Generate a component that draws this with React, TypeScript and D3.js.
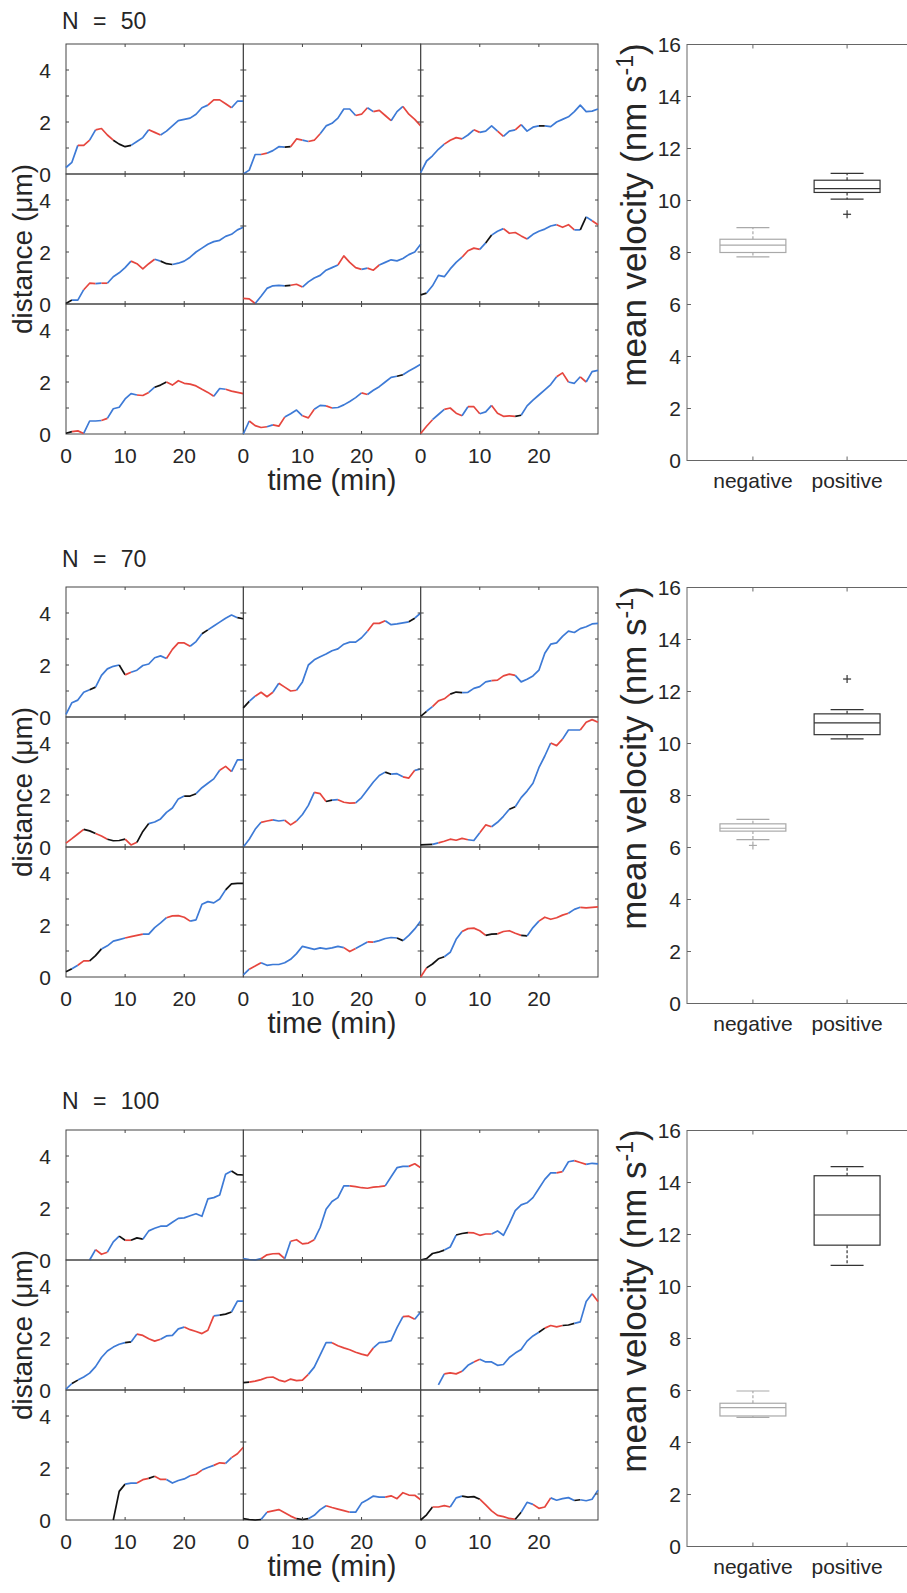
import React from "react";
import * as d3 from "d3";

// sampled trajectories, one value per minute
const TIME_MIN = [0, 1, 2, 3, 4, 5, 6, 7, 8, 9, 10, 11, 12, 13, 14, 15, 16, 17, 18, 19, 20, 21, 22, 23, 24, 25, 26, 27, 28, 29, 30];
const SECTIONS = ["N = 50", "N = 70", "N = 100"];
const GROUPS = ["negative", "positive"];

const DIST_N50 = [
  [0.25, 0.45, 1.1, 1.1, 1.3, 1.7, 1.75, 1.5, 1.3, 1.15, 1.05, 1.1, 1.25, 1.4, 1.7, 1.6, 1.5, 1.65, 1.85, 2.05, 2.1, 2.15, 2.3, 2.55, 2.65, 2.85, 2.85, 2.7, 2.55, 2.8, 2.8],
  [0, 0.15, 0.75, 0.75, 0.8, 0.9, 1.05, 1.03, 1.05, 1.35, 1.3, 1.25, 1.3, 1.55, 1.85, 1.95, 2.15, 2.5, 2.5, 2.25, 2.3, 2.55, 2.4, 2.45, 2.25, 2.05, 2.4, 2.6, 2.3, 2.1, 1.85],
  [0.05, 0.5, 0.7, 0.95, 1.15, 1.3, 1.4, 1.35, 1.5, 1.7, 1.6, 1.65, 1.85, 1.65, 1.45, 1.65, 1.7, 1.9, 1.65, 1.8, 1.85, 1.85, 1.82, 2.0, 2.1, 2.2, 2.4, 2.65, 2.4, 2.42, 2.5],
  [0.02, 0.15, 0.15, 0.55, 0.8, 0.78, 0.8, 0.8, 1.05, 1.2, 1.4, 1.65, 1.55, 1.35, 1.55, 1.72, 1.65, 1.55, 1.52, 1.57, 1.65, 1.8, 2.0, 2.15, 2.3, 2.4, 2.45, 2.6, 2.68, 2.85, 2.95],
  [0.22, 0.2, 0.02, 0.3, 0.6, 0.7, 0.72, 0.7, 0.72, 0.76, 0.65, 0.85, 1.0, 1.1, 1.3, 1.4, 1.5, 1.85, 1.6, 1.4, 1.33, 1.38, 1.3, 1.5, 1.6, 1.7, 1.66, 1.75, 1.9, 2.0, 2.3],
  [0.35, 0.42, 0.7, 1.1, 1.05, 1.35, 1.6, 1.8, 2.05, 2.15, 2.1, 2.35, 2.65, 2.8, 2.9, 2.72, 2.75, 2.62, 2.5, 2.68, 2.8, 2.88, 3.0, 3.05, 2.95, 3.05, 2.85, 2.85, 3.35, 3.2, 3.05],
  [0.03, 0.09, 0.12, 0.02, 0.5, 0.5, 0.52, 0.6, 0.97, 1.03, 1.35, 1.55, 1.5, 1.48, 1.6, 1.8, 1.88, 2.0, 1.88, 2.05, 1.95, 1.92, 1.85, 1.72, 1.6, 1.45, 1.75, 1.72, 1.65, 1.6, 1.55],
  [0, 0.5, 0.32, 0.25, 0.28, 0.35, 0.3, 0.65, 0.78, 0.92, 0.7, 0.62, 0.95, 1.1, 1.08, 1.0, 1.02, 1.12, 1.25, 1.4, 1.58, 1.52, 1.68, 1.82, 2.0, 2.18, 2.22, 2.28, 2.42, 2.55, 2.68],
  [0.02, 0.3, 0.55, 0.75, 0.95, 1.0, 0.8, 0.7, 1.05, 1.05, 0.78, 0.85, 1.1, 0.8, 0.68, 0.7, 0.68, 0.72, 1.08, 1.3, 1.5, 1.7, 1.9, 2.2, 2.35, 2.0, 1.95, 2.2, 2.0, 2.4, 2.45],
];
// b = blue, r = red, k = black, one letter per minute interval
const SEG_N50 = [
  "bbrrbrrrkkkbbbrrbbbbbbbbrrrrbb",
  "bbbrbbbkrrbrrbbbbbbrrbrrrbbrrr",
  "bbbbrrrbbrbbbrbbrbbbkbbbbbbbbb",
  "kbbrrbrbbbbrrrrbkkbbbbbbbbbbbb",
  "rrbbbbbkrrbbbbbbrrrrbrrbbbbbbb",
  "kbbbbbbrrrbkbbrrrrbbbbbrrrbkbr",
  "krrbbbrbbbbbrrbkkrrrrrrrrbbrrr",
  "brrrbrrbbbrrbbrbbbbbrbbbbbkbbb",
  "rrbbrrrbrrbbrrrrkbbbbbbrrbbrbb",
];

const DIST_N70 = [
  [0.1, 0.55, 0.65, 0.95, 1.05, 1.15, 1.6, 1.85, 1.95, 2.0, 1.62, 1.72, 1.8, 1.98, 2.04, 2.28, 2.35, 2.25, 2.6, 2.85, 2.85, 2.72, 2.9, 3.2, 3.35, 3.5, 3.65, 3.8, 3.92, 3.82, 3.78],
  [0.35, 0.6, 0.8, 0.95, 0.78, 0.95, 1.3, 1.15, 1.0, 1.03, 1.35, 2.0, 2.2, 2.32, 2.42, 2.55, 2.62, 2.8, 2.88, 2.88, 3.05, 3.3, 3.6, 3.6, 3.7, 3.55, 3.58, 3.62, 3.66, 3.8, 4.0],
  [0.02, 0.22, 0.4, 0.62, 0.7, 0.88, 0.96, 0.94, 0.95, 1.1, 1.17, 1.35, 1.4, 1.42, 1.58, 1.65, 1.6, 1.35, 1.45, 1.58, 1.8, 2.45, 2.8, 2.85, 3.1, 3.3, 3.25, 3.4, 3.47, 3.58, 3.6],
  [0.15, 0.32, 0.5, 0.68, 0.62, 0.52, 0.42, 0.3, 0.24, 0.25, 0.3, 0.08, 0.18, 0.6, 0.9, 0.96, 1.08, 1.33, 1.5, 1.85, 1.96, 1.96, 2.05, 2.28, 2.45, 2.62, 2.95, 3.1, 2.9, 3.35, 3.35],
  [0, 0.3, 0.68, 0.95, 1.0, 1.04, 1.0, 1.03, 0.85, 1.0, 1.25, 1.6, 2.1, 2.05, 1.75, 1.8, 1.82, 1.72, 1.69, 1.7, 1.9, 2.2, 2.5, 2.75, 2.88, 2.8, 2.82, 2.7, 2.65, 2.95, 3.0],
  [0.08, 0.09, 0.1, 0.16, 0.22, 0.3, 0.26, 0.33, 0.28, 0.25, 0.55, 0.85, 0.78, 0.95, 1.18, 1.45, 1.55, 1.9, 2.15, 2.45, 3.05, 3.5, 4.0, 3.9, 4.15, 4.5, 4.5, 4.5, 4.8, 4.9, 4.8],
  [0.2, 0.32, 0.45, 0.62, 0.62, 0.82, 1.08, 1.2, 1.38, 1.44, 1.5, 1.55, 1.6, 1.65, 1.65, 1.9, 2.08, 2.28, 2.35, 2.36, 2.3, 2.15, 2.2, 2.8, 2.9, 2.85, 3.0, 3.35, 3.58, 3.6, 3.6],
  [0.08, 0.3, 0.42, 0.55, 0.45, 0.48, 0.48, 0.55, 0.68, 0.9, 1.18, 1.12, 1.06, 1.12, 1.08, 1.12, 1.18, 1.13, 0.98, 1.1, 1.22, 1.35, 1.34, 1.4, 1.48, 1.52, 1.5, 1.4, 1.6, 1.85, 2.15],
  [0, 0.35, 0.5, 0.7, 0.78, 0.95, 1.45, 1.75, 1.86, 1.88, 1.78, 1.6, 1.65, 1.66, 1.75, 1.78, 1.68, 1.6, 1.58, 1.9, 2.15, 2.3, 2.22, 2.28, 2.38, 2.45, 2.6, 2.68, 2.66, 2.68, 2.7],
];
const SEG_N70 = [
  "bbbbkbbbbkrbbbbbbrrrrbbkbbbbbk",
  "kbrrrbrrrbbbbbbbbbbbbrrrbbbbkb",
  "kbrrrkkbbbbbrrrrbbbbbbbbbbbbbb",
  "rrrkkrrkkkrrkkbbbbbbkkbbbbrrbb",
  "bbbrrbbrrbbbrrkbrrrbbbbbkbbrrb",
  "kkbrrrrrbbrrbbbkbbbbbbrrbbbrrr",
  "kbrrkkbbbbrrrbbbbrrrrbbbbbbkkk",
  "brrbbbbbbbbbbbbbbrrbbrbbbbkbbb",
  "rkkkbbbrrrrkkrrrrkbbrrrrrbbrrr",
];

const DIST_N100 = [
  [null, null, null, null, 0.0, 0.4, 0.22, 0.3, 0.7, 0.92, 0.76, 0.76, 0.85, 0.8, 1.12, 1.22, 1.3, 1.3, 1.45, 1.6, 1.62, 1.7, 1.78, 1.68, 2.35, 2.4, 2.5, 3.3, 3.42, 3.28, 3.27],
  [0.05, 0.02, 0, 0.05, 0.2, 0.24, 0.25, 0.05, 0.72, 0.78, 0.62, 0.65, 0.78, 1.25, 1.95, 2.25, 2.4, 2.85, 2.85, 2.82, 2.78, 2.76, 2.8, 2.82, 2.85, 3.2, 3.55, 3.6, 3.6, 3.7, 3.55],
  [0, 0.05, 0.25, 0.3, 0.38, 0.5, 0.96, 1.02, 1.05, 1.04, 0.95, 1.0, 1.0, 1.12, 0.95, 1.4, 1.9, 2.12, 2.2, 2.4, 2.75, 3.1, 3.35, 3.35, 3.4, 3.78, 3.82, 3.75, 3.68, 3.72, 3.7],
  [0.03, 0.25, 0.38, 0.5, 0.65, 0.9, 1.25, 1.5, 1.65, 1.76, 1.82, 1.85, 2.15, 2.1, 1.97, 1.88, 1.95, 2.08, 2.1, 2.35, 2.42, 2.32, 2.25, 2.17, 2.3, 2.85, 2.88, 2.92, 3.0, 3.42, 3.42],
  [0.28, 0.3, 0.34, 0.4, 0.48, 0.5, 0.38, 0.32, 0.42, 0.36, 0.38, 0.6, 0.88, 1.35, 1.82, 1.82, 1.7, 1.62, 1.55, 1.45, 1.38, 1.32, 1.62, 1.82, 1.84, 1.9, 2.4, 2.82, 2.84, 2.72, 3.0],
  [null, null, null, 0.2, 0.62, 0.66, 0.62, 0.72, 0.95, 1.08, 1.18, 1.08, 1.08, 0.95, 0.98, 1.25, 1.42, 1.56, 1.88, 2.08, 2.22, 2.38, 2.48, 2.43, 2.48, 2.5, 2.56, 2.62, 3.4, 3.7, 3.4],
  [null, null, null, null, null, null, null, null, 0.0, 1.1, 1.38, 1.42, 1.42, 1.55, 1.6, 1.68, 1.56, 1.56, 1.42, 1.52, 1.58, 1.7, 1.76, 1.92, 2.02, 2.1, 2.2, 2.18, 2.4, 2.55, 2.8],
  [0.05, 0.02, 0, 0.02, 0.3, 0.35, 0.4, 0.28, 0.15, 0.05, 0.02, 0.05, 0.18, 0.4, 0.55, 0.48, 0.42, 0.36, 0.3, 0.3, 0.65, 0.78, 0.92, 0.88, 0.88, 0.93, 0.82, 1.05, 0.96, 0.95, 0.78],
  [0, 0.2, 0.5, 0.5, 0.55, 0.5, 0.85, 0.92, 0.88, 0.9, 0.8, 0.58, 0.35, 0.18, 0.13, 0.06, 0.03, 0.3, 0.68, 0.6, 0.45, 0.5, 0.85, 0.76, 0.82, 0.86, 0.75, 0.78, 0.74, 0.8, 1.15],
];
const SEG_N100 = [
  "bbbbbrrbbkrkkbbbbbbbbbbbbbbbkk",
  "bbbrrrrbrrrrbbbbbbrrrrrrbbbbrr",
  "kkkkbbkkrrrrbbbbbbbbbbbrbbrrbb",
  "bkbbbbbbbbkbrrrrbbbbrrrrrbkkbb",
  "krrrrrrrrrrbbbbrrrrrrrbbbbbrrb",
  "bbbbrrrbbrbbbbbbbbbbkrrrkkbbbr",
  "bbbbbbbbkkbbrrkrrbbbbrrbbrrbrr",
  "kkkbrrrrrkkbbbrrrrbbbbbbrrrrrr",
  "kkrrrbbkkkrrrrrrkbbrrrbbbbkbbb",
];

// box stats per group: [lower whisker, q1, median, q3, upper whisker]
const BOX_N50 = [[7.83, 8.0, 8.28, 8.51, 8.96], [10.05, 10.31, 10.46, 10.78, 11.04]];
const OUT_N50 = [[], [9.47]];
const BOX_N70 = [[6.3, 6.63, 6.74, 6.91, 7.08], [10.18, 10.34, 10.79, 11.14, 11.3]];
const OUT_N70 = [[6.08], [12.48]];
const BOX_N100 = [[4.97, 5.02, 5.34, 5.51, 5.98], [10.81, 11.59, 12.75, 14.26, 14.61]];
const OUT_N100 = [[], []];

const DISTS = [DIST_N50, DIST_N70, DIST_N100];
const SEGS = [SEG_N50, SEG_N70, SEG_N100];
const BOXES = [BOX_N50, BOX_N70, BOX_N100];
const OUTS = [OUT_N50, OUT_N70, OUT_N100];

const FONT = "'Liberation Sans', Arial, Helvetica, sans-serif";
const INK = "#262626";
const AXIS = "#444";
const SEG_COLOR: Record<string, string> = { b: "#3d7ad6", r: "#e6463e", k: "#111" };
const BOX_COLOR = ["#a9a9a9", "#333"];

const GRID_X0 = 66;
const GRID_W = 532;
const CELL_H = 130;
const SECTION_TOP = [44, 587, 1130];
const TITLE_Y = [29, 567, 1109];
const BOX_H = 416.5;

function runs(codes: string) {
  const out: { c: string; a: number; b: number }[] = [];
  for (let i = 0; i < codes.length; i++) {
    const last = out[out.length - 1];
    if (last && last.c === codes[i]) last.b = i + 1;
    else out.push({ c: codes[i], a: i, b: i + 1 });
  }
  return out;
}

function Panel({ top, row, col, dist, seg }: any) {
  const cw = GRID_W / 3;
  const x = d3.scaleLinear().domain([0, 30]).range([GRID_X0 + col * cw, GRID_X0 + (col + 1) * cw]);
  const y = d3.scaleLinear().domain([0, 5]).range([top + (row + 1) * CELL_H, top + row * CELL_H]);
  const line = d3
    .line<number>()
    .defined((i) => dist[i] != null)
    .x((i) => x(TIME_MIN[i]))
    .y((i) => y(dist[i]));
  const [x0, x1] = x.range();
  const [y0, y1] = y.range();
  const tl = 3;
  return (
    <g>
      <rect x={x0} y={y1} width={x1 - x0} height={y0 - y1} fill="none" stroke={AXIS} strokeWidth={1} />
      {runs(seg).map((r, k) => (
        <path
          key={k}
          d={line(d3.range(r.a, r.b + 1)) || ""}
          fill="none"
          stroke={SEG_COLOR[r.c]}
          strokeWidth={1.7}
          strokeLinejoin="round"
        />
      ))}
      {[1, 2, 3, 4].map((v) => (
        <g key={"y" + v} stroke={AXIS}>
          <line x1={x0} x2={x0 + tl} y1={y(v)} y2={y(v)} />
          <line x1={x1} x2={x1 - tl} y1={y(v)} y2={y(v)} />
        </g>
      ))}
      {[10, 20].map((v) => (
        <g key={"x" + v} stroke={AXIS}>
          <line x1={x(v)} x2={x(v)} y1={y0} y2={y0 - tl} />
          <line x1={x(v)} x2={x(v)} y1={y1} y2={y1 + tl} />
        </g>
      ))}
      {col === 0 &&
        [0, 2, 4].map((v) => (
          <text key={"yl" + v} x={x0 - 15} y={y(v)} textAnchor="end" dominantBaseline="central" fontSize={21} fill={INK}>
            {v}
          </text>
        ))}
      {row === 2 &&
        [0, 10, 20].map((v) => (
          <text key={"xl" + v} x={x(v)} y={y0 + 29} textAnchor="middle" fontSize={21} fill={INK}>
            {v}
          </text>
        ))}
    </g>
  );
}

function BoxPlot({ top, stats, outs }: any) {
  const y = d3.scaleLinear().domain([0, 16]).range([top + BOX_H, top + 0.5]);
  const x = d3.scaleLinear().domain([0.3, 2.7]).range([687, 913]);
  const hw = x(1.35) - x(1);
  const cw = hw / 2;
  const [yb, yt] = y.range();
  return (
    <g>
      <rect x={687} y={yt} width={913 - 687} height={yb - yt} fill="none" stroke="#666" strokeWidth={1} />
      {d3.range(0, 17, 2).map((v) => (
        <g key={v}>
          <line x1={687} x2={691} y1={y(v)} y2={y(v)} stroke="#666" />
          <text x={681} y={y(v)} textAnchor="end" dominantBaseline="central" fontSize={21} fill={INK}>
            {v}
          </text>
        </g>
      ))}
      {GROUPS.map((g, i) => {
        const cx = x(i + 1);
        const [lo, q1, med, q3, hi] = stats[i];
        const c = BOX_COLOR[i];
        return (
          <g key={g}>
            <line x1={cx} x2={cx} y1={yb} y2={yb - 4} stroke="#666" />
            <line x1={cx} x2={cx} y1={yt} y2={yt + 4} stroke="#666" />
            <text x={cx} y={yb + 27} textAnchor="middle" fontSize={21} fill={INK}>
              {g}
            </text>
            <g stroke={c} strokeWidth={1.2} fill="none">
              <line x1={cx} x2={cx} y1={y(q3)} y2={y(hi)} strokeDasharray="3,2" />
              <line x1={cx} x2={cx} y1={y(q1)} y2={y(lo)} strokeDasharray="3,2" />
              <line x1={cx - cw} x2={cx + cw} y1={y(hi)} y2={y(hi)} />
              <line x1={cx - cw} x2={cx + cw} y1={y(lo)} y2={y(lo)} />
              <rect x={cx - hw} y={y(q3)} width={2 * hw} height={y(q1) - y(q3)} />
              <line x1={cx - hw} x2={cx + hw} y1={y(med)} y2={y(med)} />
              {outs[i].map((o: number, k: number) => (
                <g key={k}>
                  <line x1={cx - 4} x2={cx + 4} y1={y(o)} y2={y(o)} />
                  <line x1={cx} x2={cx} y1={y(o) - 4} y2={y(o) + 4} />
                </g>
              ))}
            </g>
          </g>
        );
      })}
    </g>
  );
}

function Section({ s }: { s: number }) {
  const top = SECTION_TOP[s];
  return (
    <g>
      <text x={62} y={TITLE_Y[s]} fontSize={23} wordSpacing={8} fill={INK}>
        {SECTIONS[s]}
      </text>
      {DISTS[s].map((d, i) => (
        <Panel key={i} top={top} row={Math.floor(i / 3)} col={i % 3} dist={d} seg={SEGS[s][i]} />
      ))}
      <text transform={`translate(32,${top + 205}) rotate(-90)`} textAnchor="middle" fontSize={28} fill={INK}>
        distance (μm)
      </text>
      <text x={GRID_X0 + GRID_W / 2} y={top + 446} textAnchor="middle" fontSize={29} fill={INK}>
        time (min)
      </text>
      <BoxPlot top={top} stats={BOXES[s]} outs={OUTS[s]} />
      <text transform={`translate(646,${top + 171}) rotate(-90)`} textAnchor="middle" fontSize={35} fill={INK}>
        <tspan>mean velocity (nm s</tspan>
        <tspan dy={-13} fontSize={23}>
          -1
        </tspan>
        <tspan dy={13}>)</tspan>
      </text>
    </g>
  );
}

export default function App() {
  return (
    <svg
      width={907}
      height={1593}
      style={{ position: "absolute", left: 0, top: 0, background: "#fff" }}
      fontFamily={FONT}
    >
      {SECTIONS.map((_, s) => (
        <Section key={s} s={s} />
      ))}
    </svg>
  );
}
